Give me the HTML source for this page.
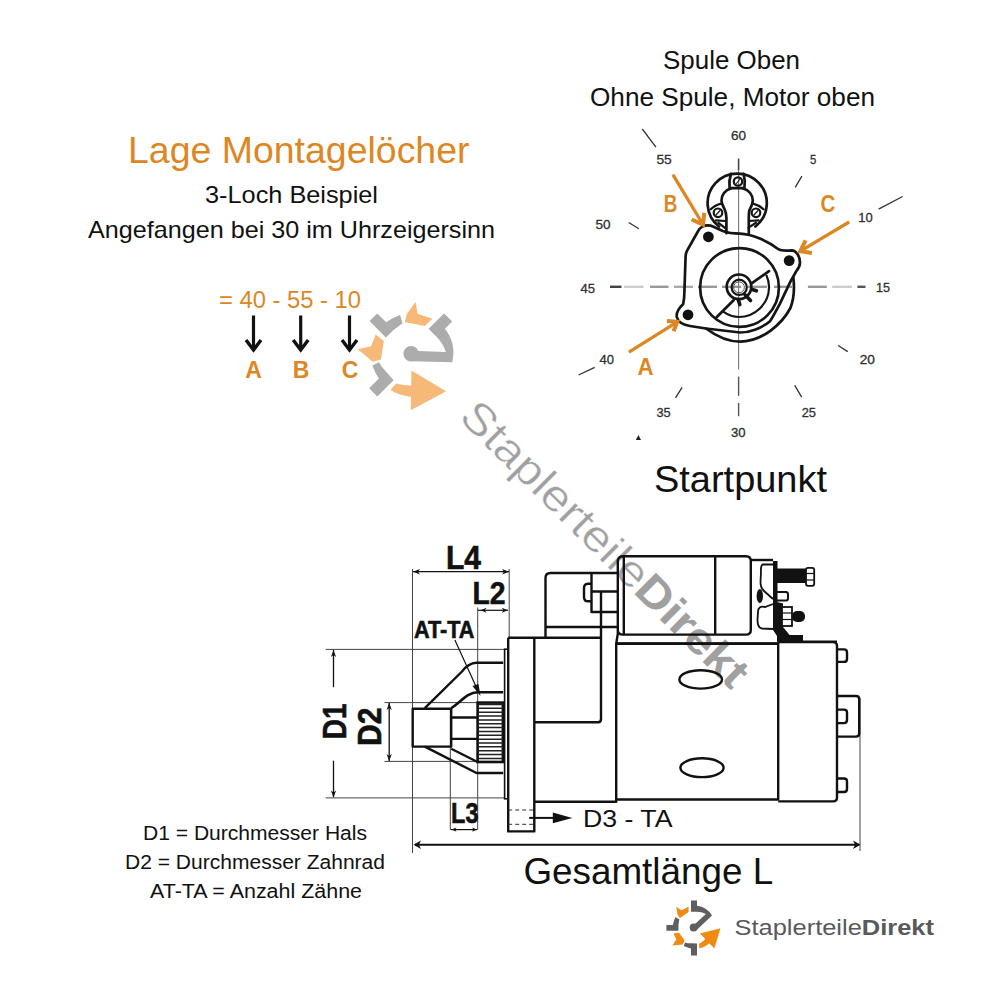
<!DOCTYPE html>
<html><head><meta charset="utf-8"><style>
html,body{margin:0;padding:0;background:#fff;}
svg{display:block;font-family:"Liberation Sans",sans-serif;}
</style></head><body>
<svg width="1000" height="1000" viewBox="0 0 1000 1000">
<rect width="1000" height="1000" fill="#fff"/>
<g transform="translate(411.1,353.7) rotate(45) scale(1.92)"><path d="M-2.7,-27 L3.3,-27 L3.3,-21.6 Q13,-20.5 18.3,-12 L3.2,2.4 L-0.6,-1.6 L12.2,-13.4 Q8,-15.6 3.3,-15.6 L-2.7,-15.6 Z" fill="#ACACAC"/><circle cx="0" cy="0" r="4" fill="#ACACAC"/><path d="M-27.3,-2.4 L-20.7,-2.4 Q-20,-7 -18.3,-10.2 L-14.4,-8.1 Q-15.5,-3 -15.3,3.3 L-27.3,3.3 Z" fill="#ACACAC"/><path d="M-2.7,28.2 L3.3,28.2 L3.3,16.2 L-2.7,15.9 Q-6,15.8 -8.7,15 L-9.9,18.6 Q-6,20.5 -2.7,21 Z" fill="#ACACAC"/><polygon points="-17.4,-20.7 -12.3,-17.1 -5.1,-20.7 -5.1,-15.3 -13.8,-9.3 -16.2,-12.9" fill="#F6B978"/><polygon points="-20.1,6 -14.7,5.4 -9,13.2 -11.1,17.1 -21.3,18 -17.4,12" fill="#F6B978"/><polygon points="26.7,0.9 6.3,6 20.7,21" fill="#F6B978"/><path d="M5.4,16.5 Q10,14 13.5,9.6 L17.7,14.4 Q12,19.5 5.7,21 Z" fill="#F6B978"/></g>
<text transform="translate(457.5,418.5) rotate(44.8)" font-size="44" fill="#A0A0A0" stroke="#fff" stroke-width="0.5" textLength="386" lengthAdjust="spacingAndGlyphs">Staplerteile<tspan font-weight="bold" stroke="none">Direkt</tspan></text>
<text x="128" y="162.5" font-size="36" fill="#DD8724" font-weight="normal" text-anchor="start" textLength="341.5" lengthAdjust="spacingAndGlyphs" >Lage Montagelöcher</text>
<text x="205" y="202.7" font-size="24" fill="#111" font-weight="normal" text-anchor="start" textLength="173" lengthAdjust="spacingAndGlyphs" >3-Loch Beispiel</text>
<text x="88" y="237.7" font-size="24" fill="#111" font-weight="normal" text-anchor="start" textLength="407" lengthAdjust="spacingAndGlyphs" >Angefangen bei 30 im Uhrzeigersinn</text>
<text x="219" y="307.5" font-size="24" fill="#DD8724" font-weight="normal" text-anchor="start" textLength="142" lengthAdjust="spacingAndGlyphs" >= 40 - 55 - 10</text>
<line x1="253.5" y1="315.5" x2="253.5" y2="349" stroke="#111" stroke-width="3.2"/><polyline points="246.0,340 253.5,350 261.0,340" fill="none" stroke="#111" stroke-width="3.4" stroke-linejoin="miter"/><line x1="300.7" y1="315.5" x2="300.7" y2="349" stroke="#111" stroke-width="3.2"/><polyline points="293.2,340 300.7,350 308.2,340" fill="none" stroke="#111" stroke-width="3.4" stroke-linejoin="miter"/><line x1="349.5" y1="315.5" x2="349.5" y2="349" stroke="#111" stroke-width="3.2"/><polyline points="342.0,340 349.5,350 357.0,340" fill="none" stroke="#111" stroke-width="3.4" stroke-linejoin="miter"/><text x="253.5" y="378.4" font-size="23" fill="#DD8724" font-weight="bold" text-anchor="middle" >A</text>
<text x="301" y="378.4" font-size="23" fill="#DD8724" font-weight="bold" text-anchor="middle" >B</text>
<text x="350" y="378.4" font-size="23" fill="#DD8724" font-weight="bold" text-anchor="middle" >C</text>
<text x="663" y="68.8" font-size="26.5" fill="#111" font-weight="normal" text-anchor="start" textLength="137" lengthAdjust="spacingAndGlyphs" >Spule Oben</text>
<text x="590" y="105.6" font-size="26.5" fill="#111" font-weight="normal" text-anchor="start" textLength="285" lengthAdjust="spacingAndGlyphs" >Ohne Spule, Motor oben</text>
<text x="654" y="491.6" font-size="36" fill="#111" font-weight="normal" text-anchor="start" textLength="173" lengthAdjust="spacingAndGlyphs" >Startpunkt</text>
<text x="731" y="140.0" font-size="12.9" fill="#2f2f2f" font-weight="normal" text-anchor="start" textLength="15" lengthAdjust="spacingAndGlyphs" stroke="#2f2f2f" stroke-width="0.3">60</text>
<text x="656.4" y="164.3" font-size="12.9" fill="#2f2f2f" font-weight="normal" text-anchor="start" textLength="15.3" lengthAdjust="spacingAndGlyphs" stroke="#2f2f2f" stroke-width="0.3">55</text>
<text x="810" y="164.3" font-size="12.9" fill="#2f2f2f" font-weight="normal" text-anchor="start" textLength="6.3" lengthAdjust="spacingAndGlyphs" stroke="#2f2f2f" stroke-width="0.3">5</text>
<text x="595.5" y="228.8" font-size="12.9" fill="#2f2f2f" font-weight="normal" text-anchor="start" textLength="15.0" lengthAdjust="spacingAndGlyphs" stroke="#2f2f2f" stroke-width="0.3">50</text>
<text x="858.2" y="221.9" font-size="12.9" fill="#2f2f2f" font-weight="normal" text-anchor="start" textLength="14.4" lengthAdjust="spacingAndGlyphs" stroke="#2f2f2f" stroke-width="0.3">10</text>
<text x="580.5" y="292.6" font-size="12.9" fill="#2f2f2f" font-weight="normal" text-anchor="start" textLength="14.5" lengthAdjust="spacingAndGlyphs" stroke="#2f2f2f" stroke-width="0.3">45</text>
<text x="876" y="291.7" font-size="12.9" fill="#2f2f2f" font-weight="normal" text-anchor="start" textLength="14" lengthAdjust="spacingAndGlyphs" stroke="#2f2f2f" stroke-width="0.3">15</text>
<text x="599.5" y="363.5" font-size="12.9" fill="#2f2f2f" font-weight="normal" text-anchor="start" textLength="14.5" lengthAdjust="spacingAndGlyphs" stroke="#2f2f2f" stroke-width="0.3">40</text>
<text x="859.7" y="363.90000000000003" font-size="12.9" fill="#2f2f2f" font-weight="normal" text-anchor="start" textLength="15.2" lengthAdjust="spacingAndGlyphs" stroke="#2f2f2f" stroke-width="0.3">20</text>
<text x="656.5" y="416.5" font-size="12.9" fill="#2f2f2f" font-weight="normal" text-anchor="start" textLength="14.2" lengthAdjust="spacingAndGlyphs" stroke="#2f2f2f" stroke-width="0.3">35</text>
<text x="801.7" y="416.5" font-size="12.9" fill="#2f2f2f" font-weight="normal" text-anchor="start" textLength="14.3" lengthAdjust="spacingAndGlyphs" stroke="#2f2f2f" stroke-width="0.3">25</text>
<text x="731" y="437.0" font-size="12.9" fill="#2f2f2f" font-weight="normal" text-anchor="start" textLength="14.6" lengthAdjust="spacingAndGlyphs" stroke="#2f2f2f" stroke-width="0.3">30</text>
<line x1="642.3" y1="129" x2="655.9" y2="147.1" stroke="#333" stroke-width="1.3"/><line x1="801.9" y1="176.2" x2="795.2" y2="187.4" stroke="#333" stroke-width="1.3"/><line x1="628.7" y1="222.5" x2="638.9" y2="228.7" stroke="#333" stroke-width="1.3"/><line x1="878.6" y1="209.1" x2="902.6" y2="196.5" stroke="#333" stroke-width="1.3"/><line x1="578.6" y1="375" x2="594.7" y2="367.4" stroke="#333" stroke-width="1.3"/><line x1="682.1" y1="387.3" x2="675.5" y2="397.8" stroke="#333" stroke-width="1.3"/><line x1="838.2" y1="345.5" x2="847.7" y2="351.6" stroke="#333" stroke-width="1.3"/><line x1="794.7" y1="385.4" x2="801.7" y2="397.2" stroke="#333" stroke-width="1.3"/><line x1="610" y1="286.8" x2="621.5" y2="286.8" stroke="#444" stroke-width="2.4"/><line x1="624" y1="286.8" x2="643.5" y2="286.8" stroke="#ccc" stroke-width="2.4"/><line x1="650" y1="286.8" x2="668.5" y2="286.8" stroke="#999" stroke-width="2.4"/><line x1="674" y1="286.8" x2="693" y2="286.8" stroke="#aaa" stroke-width="2.4"/><line x1="698" y1="286.8" x2="717" y2="286.8" stroke="#999" stroke-width="2.4"/><line x1="722" y1="286.8" x2="741" y2="286.8" stroke="#999" stroke-width="2.4"/><line x1="748" y1="286.8" x2="767" y2="286.8" stroke="#999" stroke-width="2.4"/><line x1="774" y1="286.8" x2="792" y2="286.8" stroke="#999" stroke-width="2.4"/><line x1="807.9" y1="286.8" x2="826.8" y2="286.8" stroke="#999" stroke-width="2.4"/><line x1="832.2" y1="286.8" x2="852" y2="286.8" stroke="#ccc" stroke-width="2.4"/><line x1="857.4" y1="286.8" x2="865.5" y2="286.8" stroke="#555" stroke-width="2.4"/><line x1="738.6" y1="158.5" x2="738.6" y2="170" stroke="#444" stroke-width="1.6"/><line x1="738.6" y1="170" x2="738.6" y2="369.4" stroke="#777" stroke-width="1.1"/><line x1="738.6" y1="376.6" x2="738.6" y2="395.8" stroke="#555" stroke-width="1.4"/><line x1="738.6" y1="403" x2="738.6" y2="416.2" stroke="#555" stroke-width="1.4"/><polygon points="638.4,435 641,440 635.8,440" fill="#222"/><path d="M719.0,226.5 A29.6,29.6 0 1 1 755.4,226.5" fill="none" stroke="#151515" stroke-width="2.7" stroke-linejoin="round" stroke-linecap="round"/><path d="M731,173.8 Q728.6,181 729.6,188.2 L744.4,188.2 Q745.6,181 743.6,173.8" fill="none" stroke="#151515" stroke-width="2.7" stroke-linejoin="round" stroke-linecap="round"/><circle cx="738" cy="181.5" r="4.2" fill="none" stroke="#151515" stroke-width="2.2" stroke-linejoin="round" stroke-linecap="round" stroke-width="1.8"/><line x1="736" y1="184" x2="740" y2="179" stroke="#222" stroke-width="1.2"/><path d="M731,188.5 C725,190 721.5,195 721.5,200.5 C721.5,204 723,206 724.5,209 C726,212 726.4,215 726.4,218 L726.4,233.2 M743,188.5 C749,190 752.8,195 752.8,200.5 C752.8,204 751,207 749.5,210 C748.8,212 748.8,215 748.8,218 L748.8,233.2" fill="none" stroke="#151515" stroke-width="2.7" stroke-linejoin="round" stroke-linecap="round"/><path d="M721.3,203.6 C717,204.5 713.5,206.5 710.8,209.3 M716,220.4 L725.5,221 M753,203.6 C757,204.5 760.5,206.5 763.5,209.3 M758.5,220.4 L749,221 M718.5,222.8 L725.5,228.4 M756,222.8 L748.5,227.6" fill="none" stroke="#151515" stroke-width="2.2" stroke-linejoin="round" stroke-linecap="round"/><circle cx="718" cy="212.8" r="4.3" fill="none" stroke="#151515" stroke-width="2.2" stroke-linejoin="round" stroke-linecap="round" stroke-width="1.8"/><circle cx="756" cy="212.8" r="4.3" fill="none" stroke="#151515" stroke-width="2.2" stroke-linejoin="round" stroke-linecap="round" stroke-width="1.8"/><line x1="715.5" y1="215.5" x2="720.5" y2="210" stroke="#222" stroke-width="1.3"/><line x1="753.5" y1="215.5" x2="758.5" y2="210" stroke="#222" stroke-width="1.3"/><path d="M697.6,232 C699,229 700.5,227.5 702.4,226.6 C705,225 710,225 713,226.5 L722.8,231 C728,233 733,233.6 740,233.6 C752,234 768,241 778.4,249.2 C781,251 786,250.8 791.6,250.4 C796,250.5 800,256 800,262.4 C800,266 798.5,268.5 796.4,271 L790.4,281.6 L779.6,304.4 C776,311 773,317 770,321.2 C762,328 750,332.5 740,332.5 L706,328.5 L690,326 C684,325 678,322 676.8,317 C676,312 679,308 683.2,304 C684,300 684.4,296 684.4,292 L685.6,256 C686,253 686.3,252 686.8,251.2 Z" fill="none" stroke="#151515" stroke-width="2.7" stroke-linejoin="round" stroke-linecap="round"/><path d="M706,328.5 C716,336 728,341.6 740,341.6 C762,341.6 782,324 790.4,308 C794,299 794.5,288 793.4,278" fill="none" stroke="#151515" stroke-width="2.7" stroke-linejoin="round" stroke-linecap="round"/><circle cx="739.5" cy="287.5" r="39.4" fill="none" stroke="#151515" stroke-width="2.7" stroke-linejoin="round" stroke-linecap="round"/><path d="M766.6,275.6 C768.5,280 769.2,284 769,288 C768.5,304 755,317 739,317 C733,317 728,315 724,312.2" fill="none" stroke="#151515" stroke-width="2.2" stroke-linejoin="round" stroke-linecap="round"/><path d="M769,271.1 L751.6,283.4 M733.6,300.2 L716.8,317" fill="none" stroke="#151515" stroke-width="2.7" stroke-linejoin="round" stroke-linecap="round"/><circle cx="739" cy="286.8" r="12.3" fill="none" stroke="#151515" stroke-width="2.7" stroke-linejoin="round" stroke-linecap="round"/><circle cx="739.2" cy="287.3" r="7.6" fill="none" stroke="#151515" stroke-width="2.2" stroke-linejoin="round" stroke-linecap="round" stroke-width="1.8"/><circle cx="739" cy="287.3" r="5.4" fill="none" stroke="#555" stroke-width="1"/><path d="M752.2,289.5 L756.4,290.8 M745,294.8 L750.5,300.5 M738.2,299.5 L739.8,304.6" fill="none" stroke="#151515" stroke-width="3.6" stroke-linecap="round"/><circle cx="708.4" cy="236.8" r="5.4" fill="#111"/><circle cx="789.2" cy="260.6" r="5.4" fill="#111"/><circle cx="688" cy="314.8" r="5.4" fill="#111"/><line x1="672.9" y1="174.6" x2="703" y2="224.5" stroke="#DD8724" stroke-width="3.3"/><polyline points="691.6,219.5 703,224.5 704.3,212.7" fill="none" stroke="#DD8724" stroke-width="4" stroke-linejoin="miter"/>
<line x1="849.2" y1="222" x2="800.3" y2="251.2" stroke="#DD8724" stroke-width="3.3"/><polyline points="805.6,240.4 800.3,251.2 811.9,253" fill="none" stroke="#DD8724" stroke-width="4" stroke-linejoin="miter"/>
<line x1="628.9" y1="352.2" x2="677.3" y2="321.8" stroke="#DD8724" stroke-width="3.3"/><polyline points="666.9,320.9 677.3,321.8 673.5,331.3" fill="none" stroke="#DD8724" stroke-width="4" stroke-linejoin="miter"/>
<text x="663.8" y="212" font-size="24" fill="#DD8724" font-weight="bold" text-anchor="start" textLength="13.6" lengthAdjust="spacingAndGlyphs" >B</text>
<text x="820.4" y="211.7" font-size="24" fill="#DD8724" font-weight="bold" text-anchor="start" textLength="14.8" lengthAdjust="spacingAndGlyphs" >C</text>
<text x="637.5" y="375" font-size="24" fill="#DD8724" font-weight="bold" text-anchor="start" textLength="16.1" lengthAdjust="spacingAndGlyphs" >A</text>
<line x1="412.5" y1="569" x2="412.5" y2="853" stroke="#444" stroke-width="1"/><line x1="509.2" y1="569" x2="509.2" y2="637" stroke="#444" stroke-width="1"/><line x1="477.7" y1="607.5" x2="477.7" y2="830" stroke="#444" stroke-width="1"/><line x1="450.3" y1="709" x2="450.3" y2="830" stroke="#444" stroke-width="1"/><line x1="325.7" y1="649.4" x2="505" y2="649.4" stroke="#444" stroke-width="1"/><line x1="325.7" y1="797.9" x2="505" y2="797.9" stroke="#444" stroke-width="1"/><line x1="384.5" y1="702.6" x2="503" y2="702.6" stroke="#444" stroke-width="1"/><line x1="384.5" y1="761.4" x2="503" y2="761.4" stroke="#444" stroke-width="1"/><line x1="860" y1="698" x2="860" y2="851" stroke="#444" stroke-width="1"/><line x1="413" y1="571.7" x2="509" y2="571.7" stroke="#111" stroke-width="1.3"/><polygon points="413,571.7 420,568.9000000000001 418.04,571.7 420,574.5" fill="#111"/><polygon points="509,571.7 502,568.9000000000001 503.96,571.7 502,574.5" fill="#111"/><line x1="478" y1="610.3" x2="508" y2="610.3" stroke="#111" stroke-width="1.2"/><polygon points="480.5,610.3 486.5,607.8 484.82,610.3 486.5,612.8" fill="#111"/><polygon points="507.8,610.3 501.8,607.8 503.48,610.3 501.8,612.8" fill="#111"/><line x1="451" y1="829.6" x2="477" y2="829.6" stroke="#111" stroke-width="1.2"/><polygon points="451.5,829.6 456.5,827.4 455.1,829.6 456.5,831.8000000000001" fill="#111"/><polygon points="477,829.6 472,827.4 473.4,829.6 472,831.8000000000001" fill="#111"/><line x1="333.5" y1="650" x2="333.5" y2="687.2" stroke="#111" stroke-width="1.3"/><line x1="333.5" y1="760.7" x2="333.5" y2="797" stroke="#111" stroke-width="1.3"/><polygon points="333.5,650 330.9,657 333.5,655.04 336.1,657" fill="#111"/><polygon points="333.5,797.5 330.9,790.5 333.5,792.46 336.1,790.5" fill="#111"/><line x1="389.2" y1="703" x2="389.2" y2="761" stroke="#111" stroke-width="1.3"/><polygon points="389.2,703 386.59999999999997,710 389.2,708.04 391.8,710" fill="#111"/><polygon points="389.2,761 386.59999999999997,754 389.2,755.96 391.8,754" fill="#111"/><line x1="415" y1="844.7" x2="859" y2="844.7" stroke="#111" stroke-width="2"/><polygon points="413.5,844.7 421.0,840.5 418.9,844.7 421.0,848.9000000000001" fill="#111"/><polygon points="860.5,844.7 853.0,840.5 855.1,844.7 853.0,848.9000000000001" fill="#111"/><line x1="454.9" y1="640" x2="478.5" y2="692" stroke="#111" stroke-width="1.2"/><polygon points="480.5,696 472.5,686 478.5,684" fill="#111"/><text x="446" y="568.6" font-size="32.5" fill="#111" font-weight="bold" text-anchor="start" textLength="35" lengthAdjust="spacingAndGlyphs" stroke="#111" stroke-width="0.6">L4</text>
<text x="472.5" y="603.9" font-size="31" fill="#111" font-weight="bold" text-anchor="start" textLength="33" lengthAdjust="spacingAndGlyphs" stroke="#111" stroke-width="0.6">L2</text>
<text x="414" y="637.9" font-size="24" fill="#111" font-weight="bold" text-anchor="start" textLength="60.5" lengthAdjust="spacingAndGlyphs" stroke="#111" stroke-width="0.6">AT-TA</text>
<text x="451" y="822.7" font-size="30" fill="#111" font-weight="bold" text-anchor="start" textLength="27.5" lengthAdjust="spacingAndGlyphs" stroke="#111" stroke-width="0.6">L3</text>
<text transform="translate(345.9,739.2) rotate(-90)" font-size="32.5" font-weight="bold" fill="#111" stroke="#111" stroke-width="0.6" textLength="35.6" lengthAdjust="spacingAndGlyphs">D1</text>
<text transform="translate(380.5,746) rotate(-90)" font-size="32.5" font-weight="bold" fill="#111" stroke="#111" stroke-width="0.6" textLength="38.5" lengthAdjust="spacingAndGlyphs">D2</text>
<text x="583" y="826.6" font-size="23.5" fill="#111" font-weight="normal" text-anchor="start" textLength="89.5" lengthAdjust="spacingAndGlyphs" >D3 - TA</text>
<text x="523.4" y="884" font-size="36" fill="#111" font-weight="normal" text-anchor="start" textLength="249.8" lengthAdjust="spacingAndGlyphs" >Gesamtlänge L</text>
<rect x="412.7" y="708.7" width="38.5" height="37.9" fill="none" stroke="#111" stroke-width="2.4" stroke-linejoin="round"/><path d="M451.2,717.5 L477.6,717.5 M451.2,738.9 L477.6,738.9" fill="none" stroke="#111" stroke-width="2.4" stroke-linejoin="round"/><rect x="477.6" y="702.6" width="25.3" height="59.4" fill="none" stroke="#111" stroke-width="2.6"/><path d="M478,704.50 L503,704.50 M478,708.35 L503,708.35 M478,712.20 L503,712.20 M478,716.05 L503,716.05 M478,719.90 L503,719.90 M478,723.75 L503,723.75 M478,727.60 L503,727.60 M478,731.45 L503,731.45 M478,735.30 L503,735.30 M478,739.15 L503,739.15 M478,743.00 L503,743.00 M478,746.85 L503,746.85 M478,750.70 L503,750.70 M478,754.55 L503,754.55 M478,758.40 L503,758.40 " stroke="#222" stroke-width="1.5"/><path d="M424.8,708.1 L462,671.5 Q468.5,663 476.5,662.8 L503.2,662.8 M451.2,708.1 C460,703 467,692.2 477.6,692.2 L503.2,692.2 M424.8,746.6 L476.5,773 L503.2,773 M451.2,748.8 L477.6,762" fill="none" stroke="#111" stroke-width="2.4" stroke-linejoin="round"/><rect x="504.6" y="649.2" width="3.6" height="149.6" fill="none" stroke="#111" stroke-width="1.6"/><path d="M508.2,637.7 L601,637.7 M508.2,637.7 L508.2,831.4 L534.3,831.4 L534.3,637.7 M534.3,722.3 L598,722.3 Q601,722.3 601,719 L601,591.5 M534.3,801.8 L616.2,801.8 L616.2,643.5" fill="none" stroke="#111" stroke-width="2.4" stroke-linejoin="round"/><path d="M508.2,810 L534.3,810 M508.2,824.3 L534.3,824.3" stroke="#333" stroke-width="1" stroke-dasharray="4 3"/><line x1="529.2" y1="817.9" x2="555" y2="817.9" stroke="#111" stroke-width="2"/><polygon points="572.3,817.9 552.8,812.5 552.8,823.3" fill="#111"/><path d="M545.5,637.7 L545.5,578 Q545.5,573 550.5,573 L617.3,573 M545.5,627 L617.3,627 M591.5,573 L591.5,612 L617.3,612 M591.5,591.5 L617.3,591.5" fill="none" stroke="#111" stroke-width="2.4" stroke-linejoin="round"/><path d="M591.5,583.8 L588,583.8 Q584,584 584,588 L584,597 Q584,601.3 588,601.3 L591.5,601.3" fill="none" stroke="#111" stroke-width="2.4" stroke-linejoin="round"/><path d="M617.8,633.6 L617.8,560 Q618.8,556.2 623,556.2 L746,556.2 Q750.8,556.2 750.8,561 L750.8,630 Q750.8,634.6 746,634.6 L623,634.6 Q617.8,634.6 617.8,630 M623.8,557 L623.8,634 M715.2,556.5 L715.2,634.4 M617.8,633.6 L616.2,643.8 L777,643.8" fill="none" stroke="#111" stroke-width="2.4" stroke-linejoin="round"/><path d="M750.8,560 L773,560" fill="none" stroke="#111" stroke-width="2.4" stroke-linejoin="round"/><rect x="773" y="561" width="4.5" height="41" fill="#111"/><rect x="777" y="568.5" width="29.5" height="14.5" fill="#111"/><rect x="806" y="567.8" width="8.2" height="18" rx="2" fill="#fff" stroke="#111" stroke-width="1.8"/><line x1="806" y1="573.5" x2="814" y2="573.5" stroke="#111" stroke-width="1.2"/><line x1="806" y1="580" x2="814" y2="580" stroke="#111" stroke-width="1.2"/><path d="M774,592 L786,592 Q788,592 788,594.5 L788,598 Q788,600.5 786,600.5 L774,600.5" fill="none" stroke="#111" stroke-width="2"/><path d="M773,564.5 L762.5,564.5 Q760.5,566 761,572 L760.5,582 Q760.5,588 764,591 L773,599" fill="none" stroke="#111" stroke-width="1.8"/><ellipse cx="759.8" cy="596" rx="3.2" ry="7" fill="#111"/><path d="M773,604 L765,607 Q758,605.5 758,612 L757.5,620 Q757.5,628 762,628.5 L773,629" fill="none" stroke="#111" stroke-width="1.8"/><polygon points="773,601 783,603.5 783,627 790,635.5 777,636 773,630" fill="#111"/><rect x="782" y="607" width="10" height="19" fill="#fff" stroke="#111" stroke-width="1.8"/><line x1="782" y1="613" x2="792" y2="613" stroke="#111" stroke-width="1.2"/><line x1="782" y1="619.5" x2="792" y2="619.5" stroke="#111" stroke-width="1.2"/><rect x="792" y="611" width="13" height="11" rx="5" fill="#111"/><rect x="777" y="635" width="26" height="6.5" fill="#111"/><path d="M777.2,641.8 L837,641.8" fill="none" stroke="#111" stroke-width="2.4" stroke-linejoin="round"/><path d="M616.2,643.5 L778.2,643.5 L778.2,799.5 L616.2,799.5" fill="none" stroke="#111" stroke-width="2.4" stroke-linejoin="round"/><path d="M778.2,642.1 L833,642.1 Q837,642.1 837,646 L837,797.5 Q837,801.4 833,801.4 L778.2,801.4" fill="none" stroke="#111" stroke-width="2.4" stroke-linejoin="round"/><ellipse cx="700.7" cy="679.4" rx="21.3" ry="9.2" fill="none" stroke="#111" stroke-width="2.4" stroke-linejoin="round"/><ellipse cx="702" cy="767.7" rx="21.6" ry="9.4" fill="none" stroke="#111" stroke-width="2.4" stroke-linejoin="round"/><path d="M837,649.4 L844,649.4 Q847,649.4 847,652.4 L847,658.9 Q847,661.9 844,661.9 L837,661.9" fill="none" stroke="#111" stroke-width="2.4" stroke-linejoin="round" stroke-width="2"/><path d="M837,709.6 L844,709.6 Q847,709.6 847,712.6 L847,720.1 Q847,723.1 844,723.1 L837,723.1" fill="none" stroke="#111" stroke-width="2.4" stroke-linejoin="round" stroke-width="2"/><path d="M837,778.5 L844,778.5 Q847,778.5 847,781.5 L847,789 Q847,792 844,792 L837,792" fill="none" stroke="#111" stroke-width="2.4" stroke-linejoin="round" stroke-width="2"/><path d="M837,696 L856,696 Q859.2,696 859.2,699 L859.2,733.6 Q859.2,736.6 856,736.6 L837,736.6" fill="none" stroke="#111" stroke-width="2.4" stroke-linejoin="round" stroke-width="1.8"/><text x="143" y="839.8" font-size="20" fill="#111" font-weight="normal" text-anchor="start" textLength="224" lengthAdjust="spacingAndGlyphs" >D1 = Durchmesser Hals</text>
<text x="125" y="868.6" font-size="20" fill="#111" font-weight="normal" text-anchor="start" textLength="260" lengthAdjust="spacingAndGlyphs" >D2 = Durchmesser Zahnrad</text>
<text x="150" y="897.9" font-size="20" fill="#111" font-weight="normal" text-anchor="start" textLength="212" lengthAdjust="spacingAndGlyphs" >AT-TA = Anzahl Zähne</text>
<g transform="translate(693.7,927.4) rotate(0) scale(1.0)"><path d="M-2.7,-27 L3.3,-27 L3.3,-21.6 Q13,-20.5 18.3,-12 L3.2,2.4 L-0.6,-1.6 L12.2,-13.4 Q8,-15.6 3.3,-15.6 L-2.7,-15.6 Z" fill="#5F5F61"/><circle cx="0" cy="0" r="4" fill="#5F5F61"/><path d="M-27.3,-2.4 L-20.7,-2.4 Q-20,-7 -18.3,-10.2 L-14.4,-8.1 Q-15.5,-3 -15.3,3.3 L-27.3,3.3 Z" fill="#5F5F61"/><path d="M-2.7,28.2 L3.3,28.2 L3.3,16.2 L-2.7,15.9 Q-6,15.8 -8.7,15 L-9.9,18.6 Q-6,20.5 -2.7,21 Z" fill="#5F5F61"/><polygon points="-17.4,-20.7 -12.3,-17.1 -5.1,-20.7 -5.1,-15.3 -13.8,-9.3 -16.2,-12.9" fill="#F08A12"/><polygon points="-20.1,6 -14.7,5.4 -9,13.2 -11.1,17.1 -21.3,18 -17.4,12" fill="#F08A12"/><polygon points="26.7,0.9 6.3,6 20.7,21" fill="#F08A12"/><path d="M5.4,16.5 Q10,14 13.5,9.6 L17.7,14.4 Q12,19.5 5.7,21 Z" fill="#F08A12"/></g>
<text x="734.5" y="934.6" font-size="22.3" fill="#59595B" textLength="199.5" lengthAdjust="spacingAndGlyphs">Staplerteile<tspan font-weight="bold">Direkt</tspan></text>
</svg>
</body></html>
